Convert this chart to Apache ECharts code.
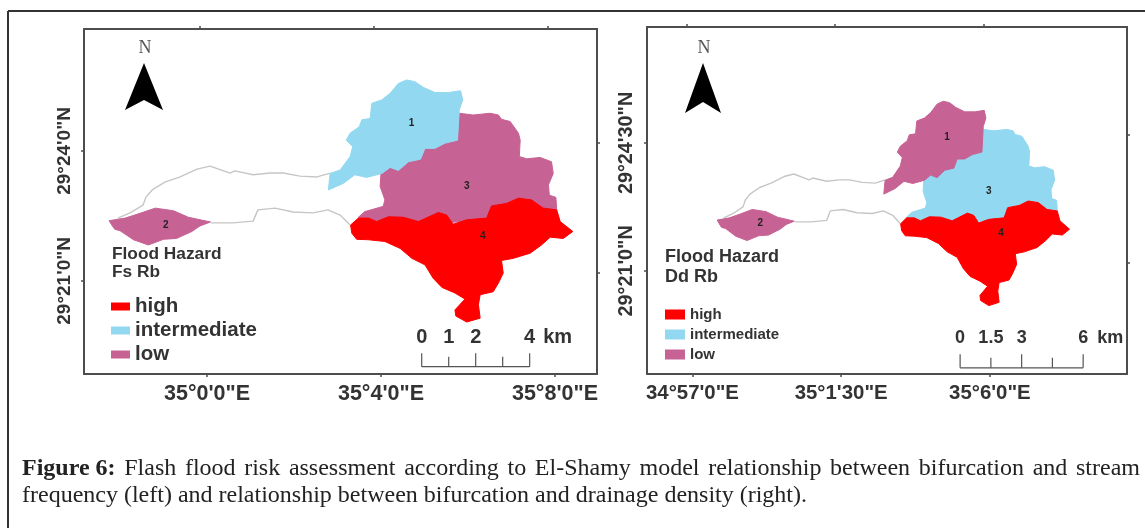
<!DOCTYPE html>
<html><head><meta charset="utf-8">
<style>html,body{margin:0;padding:0;background:#fff}#c{width:1145px;height:528px;filter:blur(0.45px)}</style>
<script src="https://cdn.jsdelivr.net/npm/echarts@6/dist/echarts.min.js"></script>
</head><body><div id="c"></div>
<script>
// Geography is given as arc-minutes: x = minutes east of 35°, y = minutes north of 29°.
const basin1 = [[4.59,25.64],[4.78,25.60],[4.97,25.47],[5.24,25.35],[5.55,25.35],[5.83,25.39],[5.88,25.18],[5.80,24.95],[5.76,24.25],[5.47,24.18],[5.24,24.06],[5.01,24.06],[4.91,23.81],[4.63,23.75],[4.40,23.55],[4.21,23.62],[4.02,23.48],[3.67,23.39],[3.40,23.45],[3.13,23.25],[2.79,23.10],[2.83,23.48],[3.06,23.56],[3.29,23.87],[3.35,24.10],[3.20,24.25],[3.29,24.41],[3.50,24.56],[3.56,24.72],[3.75,24.75],[3.79,25.10],[4.02,25.18],[4.21,25.33],[4.40,25.56]];
const basin2 = [[-2.25,22.39],[-1.88,22.45],[-1.54,22.56],[-1.19,22.68],[-0.77,22.62],[-0.43,22.47],[0.08,22.36],[-0.16,22.27],[-0.35,22.14],[-0.70,21.98],[-1.00,21.96],[-1.35,21.83],[-1.69,21.95],[-2.00,22.16],[-2.12,22.19],[-2.19,22.29]];
const basin3 = [[5.80,24.87],[6.12,24.83],[6.51,24.87],[6.70,24.83],[6.77,24.73],[6.97,24.68],[7.16,24.41],[7.20,24.25],[7.18,23.87],[7.35,23.82],[7.66,23.85],[7.92,23.75],[7.96,23.48],[7.85,23.22],[7.87,22.98],[8.02,22.93],[8.04,22.65],[7.12,22.48],[4.44,22.25],[3.48,22.47],[3.63,22.60],[4.05,22.72],[4.09,22.87],[3.98,23.18],[4.00,23.48],[4.21,23.62],[4.40,23.55],[4.63,23.75],[4.91,23.81],[5.01,24.06],[5.24,24.06],[5.47,24.18],[5.76,24.25]];
const basin4 = [[3.30,22.29],[3.48,22.45],[3.71,22.45],[3.90,22.37],[4.17,22.48],[4.51,22.47],[4.86,22.37],[5.32,22.58],[5.51,22.52],[5.66,22.31],[5.97,22.41],[6.43,22.45],[6.54,22.73],[6.89,22.79],[7.16,22.91],[7.46,22.87],[7.73,22.68],[8.04,22.64],[8.12,22.37],[8.41,22.14],[8.19,21.98],[7.89,22.01],[7.69,21.83],[7.43,21.64],[7.04,21.52],[6.77,21.47],[6.81,21.18],[6.70,20.95],[6.58,20.75],[6.28,20.68],[6.24,20.45],[6.28,20.14],[5.97,20.05],[5.72,20.19],[5.70,20.33],[5.93,20.58],[5.70,20.72],[5.40,20.85],[5.20,21.06],[5.01,21.37],[4.71,21.52],[4.44,21.75],[4.09,21.91],[3.71,21.95],[3.44,21.96],[3.33,22.10]];
const channelNorth = [[-2.05,22.45],[-1.77,22.57],[-1.47,22.75],[-1.40,22.94],[-1.26,23.10],[-0.97,23.28],[-0.62,23.40],[-0.23,23.58],[0.07,23.65],[0.53,23.49],[0.64,23.54],[1.06,23.45],[1.45,23.49],[1.75,23.49],[2.14,23.42],[2.53,23.40],[2.83,23.49]];
const channelSouth = [[0.09,22.34],[0.60,22.34],[1.06,22.38],[1.17,22.64],[1.56,22.68],[1.98,22.59],[2.44,22.57],[2.78,22.64],[3.06,22.52],[3.29,22.29]];
const basinLabels = {1:[4.70,24.65],2:[-0.95,22.29],3:[5.97,23.18],4:[6.34,22.04]};
const basinOutlines = {1:basin1,2:basin2,3:basin3,4:basin4};
const levelNames = ['high','intermediate','low'];
const levelColors = {high:'#fe0000',intermediate:'#93d8f1',low:'#c76295'};
const leftLevels = {3:'low',1:'intermediate',2:'low',4:'high'};
const rightLevels = {3:'intermediate',1:'low',2:'low',4:'high'};
const leftLonTicks = [0,4,8], leftLonLabels = ['35°0\'0"E','35°4\'0"E','35°8\'0"E'];
const leftLatTicks = [21,24], leftLatLabels = ['29°21\'0"N','29°24\'0"N'];
const rightLonTicks = [-3,1.5,6], rightLonLabels = ['34°57\'0"E','35°1\'30"E','35°6\'0"E'];
const rightLatTicks = [21,24.5], rightLatLabels = ['29°21\'0"N','29°24\'30"N'];
const leftTopTicks = [-0.16,3.84,7.84], leftRightTicks = [21.19,24.18];
const rightTopTicks = [-3.18,1.32,5.82], rightRightTicks = [21.21,24.72];
const leftScaleKm = [0,1,2,3,4], leftScaleLabels = {0:'0',1:'1',2:'2',4:'4'};
const rightScaleKm = [0,1.5,3,4.5,6], rightScaleLabels = {0:'0',1.5:'1.5',3:'3',6:'6'};
const captionBold = 'Figure 6:';
const captionLine1 = 'Flash flood risk assessment according to El-Shamy model relationship between bifurcation and stream';
const captionLine2 = 'frequency (left) and relationship between bifurcation and drainage density (right).';

const INK = '#333';
const SANS = '"Liberation Sans"';
function pick(ticks, labels){return v=>{let b=0;ticks.forEach((t,i)=>{if(Math.abs(t-v)<Math.abs(ticks[b]-v))b=i});return labels[b]}}
const line = {onZero:false,lineStyle:{color:'#4d4d4d',width:2}};
const tick = vals => ({show:true,length:3,customValues:vals,lineStyle:{color:'#4d4d4d',width:1.5}});
function xAx(g,range,pos,ticks,labels,fs){return {type:'value',gridIndex:g,position:pos,min:range[0],max:range[1],splitLine:{show:false},axisLine:line,axisTick:tick(ticks),
  axisLabel:labels?{show:true,customValues:ticks,formatter:pick(ticks,labels),fontFamily:SANS,fontWeight:'bold',fontSize:fs,color:INK,margin:9,hideOverlap:false}:{show:false}}}
function yAx(g,range,pos,ticks,labels,fs){return {type:'value',gridIndex:g,position:pos,min:range[0],max:range[1],splitLine:{show:false},axisLine:line,axisTick:tick(ticks),
  axisLabel:labels?{show:true,rotate:90,customValues:ticks,formatter:pick(ticks,labels),fontFamily:SANS,fontWeight:'bold',fontSize:fs,color:INK,margin:10,hideOverlap:false}:{show:false}}}

function basinSeries(id,level,axis){
  const outline = basinOutlines[id];
  return {type:'custom',name:level,xAxisIndex:axis,yAxisIndex:axis,itemStyle:{color:levelColors[level]},encode:{x:0,y:1},silent:true,
    data:[[basinLabels[id][0],basinLabels[id][1],id]],
    renderItem:(p,api)=>{
      const c=api.visual('color'), at=api.coord([api.value(0),api.value(1)]);
      return {type:'group',children:[
        {type:'polygon',shape:{points:outline.map(q=>api.coord(q))},style:{fill:c,stroke:c,lineWidth:1}},
        {type:'text',x:at[0],y:at[1],z2:5,style:{text:String(api.value(2)),fill:'#222',font:'bold 10px '+SANS,align:'center',verticalAlign:'middle'}}
      ]};
    }};
}
function channelSeries(pts,axis){return {type:'line',xAxisIndex:axis,yAxisIndex:axis,data:pts,showSymbol:false,silent:true,lineStyle:{color:'#c6c6c6',width:1.4},z:1}}
function scaleSeries(axis,start,stops,labels,kmPerMin,fs,kmGap){
  return {type:'custom',xAxisIndex:axis,yAxisIndex:axis,silent:true,encode:{x:0,y:1},data:[start],
    renderItem:(p,api)=>{
      const kids=[]; const y0=api.coord(start)[1];
      const x0=api.coord(start)[0], xN=api.coord([start[0]+stops[stops.length-1]/kmPerMin,start[1]])[0];
      kids.push({type:'line',shape:{x1:x0,y1:y0,x2:xN,y2:y0},style:{stroke:'#555',lineWidth:1.2}});
      stops.forEach((k,i)=>{
        const x=api.coord([start[0]+k/kmPerMin,start[1]])[0];
        const tall=(i===0||i===2||i===stops.length-1);
        kids.push({type:'line',shape:{x1:x,y1:y0,x2:x,y2:y0-(tall?13.5:10)},style:{stroke:'#555',lineWidth:1.2}});
        if(labels[k]!==undefined) kids.push({type:'text',x:x,y:y0-29.5,style:{text:labels[k],fill:INK,font:'bold '+fs+'px '+SANS,align:'center',verticalAlign:'middle'}});
        if(i===stops.length-1) kids.push({type:'text',x:x+kmGap,y:y0-29.5,style:{text:'km',fill:INK,font:'bold '+fs+'px '+SANS,align:'center',verticalAlign:'middle'}});
      });
      return {type:'group',children:kids};
    }};
}

const series=[];
[3,1,2,4].forEach(id=>series.push(basinSeries(id,leftLevels[id],0)));
series.push(channelSeries(channelNorth,0),channelSeries(channelSouth,0));
series.push(scaleSeries(0,[4.936,19.02],leftScaleKm,leftScaleLabels,1.6116,20,28));
[3,1,2,4].forEach(id=>series.push(basinSeries(id,rightLevels[id],2)));
series.push(channelSeries(channelNorth,2),channelSeries(channelSouth,2));
series.push(scaleSeries(2,[5.10,18.35],rightScaleKm,rightScaleLabels,1.6116,18,27));

function northArrow(cx,tipY,baseY,notchY,half,textY){return [
  {type:'polygon',silent:true,shape:{points:[[cx,tipY],[cx+half,baseY],[cx,notchY],[cx-half,baseY]]},style:{fill:'#000'}},
  {type:'text',silent:true,x:cx+1,y:textY,style:{text:'N',fill:'#555',font:'18px "Liberation Serif"',align:'center',verticalAlign:'middle'}}
]}
function note(text,x,y,fs){return {type:'text',silent:true,x:x,y:y,style:{text:text,fill:INK,font:'bold '+fs+'px '+SANS,align:'left',verticalAlign:'middle'}}}

const FS=24, REG=FS+'px "Liberation Serif"', BOLD='bold '+FS+'px "Liberation Serif"';
const mc=document.createElement('canvas').getContext('2d');
function w(t,f){mc.font=f;return mc.measureText(t).width}
const capLeft=22, capRight=1140, capY1=469, capY2=496;
const words=captionLine1.split(' ');
let used=w(captionBold,BOLD); words.forEach(t=>used+=w(t,REG));
const gap=(capRight-capLeft-used)/words.length;
const caption=[{type:'text',silent:true,x:capLeft,y:capY1,style:{text:captionBold,fill:'#222',font:BOLD,align:'left',verticalAlign:'middle'}}];
let cx=capLeft+w(captionBold,BOLD)+gap;
words.forEach(t=>{caption.push({type:'text',silent:true,x:cx,y:capY1,style:{text:t,fill:'#222',font:REG,align:'left',verticalAlign:'middle'}});cx+=w(t,REG)+gap});
caption.push({type:'text',silent:true,x:capLeft,y:capY2,style:{text:captionLine2,fill:'#222',font:REG,align:'left',verticalAlign:'middle'}});

const option={
  animation:false,backgroundColor:'#fff',
  grid:[{left:84,top:29,width:513,height:345},{left:647,top:27,width:480,height:347}],
  xAxis:[xAx(0,[-2.828,8.966],'bottom',leftLonTicks,leftLonLabels,21.5),xAx(0,[-2.828,8.966],'top',leftTopTicks),
         xAx(1,[-4.376,10.15],'bottom',rightLonTicks,rightLonLabels,20.4),xAx(1,[-4.376,10.15],'top',rightTopTicks)],
  yAxis:[yAx(0,[18.85,26.816],'left',leftLatTicks,leftLatLabels,19),yAx(0,[18.85,26.816],'right',leftRightTicks),
         yAx(1,[18.18,27.67],'left',rightLatTicks,rightLatLabels,19.8),yAx(1,[18.18,27.67],'right',rightRightTicks)],
  legend:[
    {data:levelNames,orient:'vertical',left:111,top:296,padding:0,itemWidth:19,itemHeight:8,itemGap:3,icon:'rect',selectedMode:false,textStyle:{fontFamily:SANS,fontWeight:'bold',fontSize:20.5,color:INK}},
    {data:levelNames,orient:'vertical',left:665,top:307,padding:0,itemWidth:20,itemHeight:10,itemGap:5,icon:'rect',selectedMode:false,textStyle:{fontFamily:SANS,fontWeight:'bold',fontSize:15,color:INK}}
  ],
  series:series,
  graphic:{elements:[
    {type:'line',silent:true,shape:{x1:8,y1:11,x2:1145,y2:11},style:{stroke:'#333',lineWidth:2}},
    {type:'line',silent:true,shape:{x1:8,y1:11,x2:8,y2:528},style:{stroke:'#333',lineWidth:2}},
    ...northArrow(144,63,110,100,19,48),
    ...northArrow(703,63,113,102,18,48),
    note('Flood Hazard',112,254,17.3),note('Fs Rb',112,272,17.3),
    note('Flood Hazard',665,257,18),note('Dd Rb',665,277,18),
    ...caption
  ]}
};
echarts.init(document.getElementById('c'),null,{renderer:'canvas'}).setOption(option);
</script></body></html>
